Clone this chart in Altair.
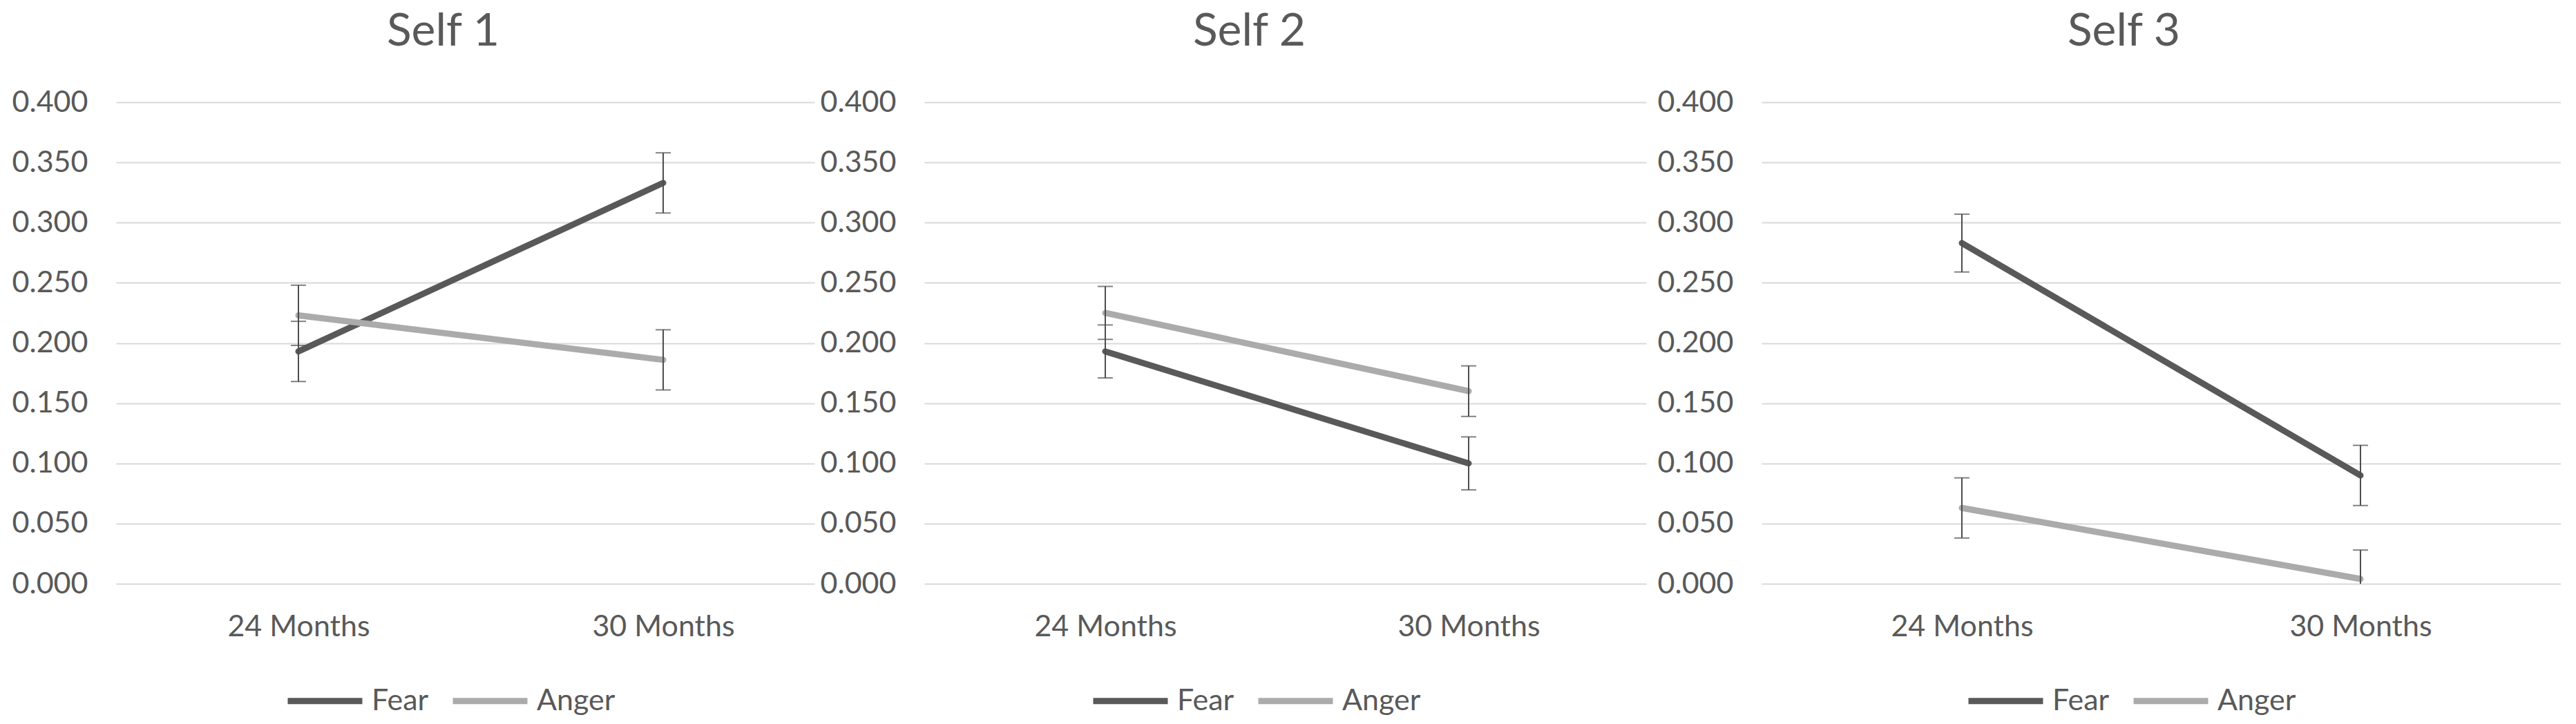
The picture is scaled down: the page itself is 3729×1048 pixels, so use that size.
import altair as alt
import pandas as pd

# ---- data ----
panels = ["Self 1", "Self 2", "Self 3"]
times = ["24 Months", "30 Months"]
series = ["Fear", "Anger"]

fear_mean = [[0.193, 0.333], [0.193, 0.100], [0.283, 0.090]]
fear_err = [[0.025, 0.025], [0.022, 0.022], [0.024, 0.025]]
anger_mean = [[0.223, 0.186], [0.225, 0.160], [0.063, 0.004]]
anger_err = [[0.025, 0.025], [0.022, 0.021], [0.025, 0.024]]

y_ticks = [0.0, 0.05, 0.1, 0.15, 0.2, 0.25, 0.3, 0.35, 0.4]

# ---- layout (pixels) ----
plot_widths = [1011, 1045, 1157]
plot_height = 697
cat_pix = [[264, 792], [262, 788], [290, 867]]   # category centres inside each plot
axis_extents = [160, 159, 167]
title_dx = [-32, -52, -54]
legend_x = [280, 276, 331]
legend_y = 844
top_pad = 5

FONT = "Lato"
TXT = "#595959"
colors = ["#595959", "#ABABAB"]
label_expr = "[" + ",".join("'" + t + "'" for t in times) + "][datum.value]"


def make_df(i):
    rows = []
    for s, means, errs in (("Fear", fear_mean, fear_err), ("Anger", anger_mean, anger_err)):
        for k, (m, e) in enumerate(zip(means[i], errs[i])):
            rows.append({"t": k, "time": times[k], "series": s, "mean": m, "lo": m - e, "hi": m + e})
    return pd.DataFrame(rows)


def x_domain(i):
    p0, p1 = cat_pix[i]
    step = p1 - p0
    d0 = -p0 / step
    return [d0, d0 + plot_widths[i] / step]


def panel(i):
    df = make_df(i)
    base = alt.Chart(df)
    x = alt.X(
        "t:Q",
        scale=alt.Scale(domain=x_domain(i), nice=False, zero=False),
        axis=alt.Axis(
            title=None, values=[0, 1], labelExpr=label_expr, labelAngle=0, labelPadding=41,
            ticks=False, domain=False, labelFontSize=43, labelFont=FONT, labelColor=TXT,
            grid=False, labelLimit=0, labelFlush=False, labelOverlap=False,
        ),
    )
    yscale = alt.Scale(domain=[0, 0.4], nice=False, zero=False)
    y = alt.Y(
        "mean:Q",
        scale=yscale,
        axis=alt.Axis(
            title=None, values=y_ticks, format=".3f", grid=True, gridColor="#D9D9D9",
            gridWidth=2, domain=False, ticks=False, labelPadding=41,
            labelFontSize=43, labelFont=FONT, labelColor=TXT, labelFlush=False,
            minExtent=axis_extents[i], maxExtent=axis_extents[i],
        ),
    )
    color = alt.Color(
        "series:N",
        sort=series,
        scale=alt.Scale(domain=series, range=colors),
        legend=alt.Legend(
            title=None, orient="none", direction="horizontal",
            legendX=legend_x[i], legendY=legend_y,
            symbolType="M-3,0H3", symbolSize=1296, symbolStrokeWidth=9,
            labelFontSize=43, labelFont=FONT, labelColor=TXT,
            labelOffset=45, columnPadding=16, padding=0,
        ),
    )
    lines = base.mark_line(strokeWidth=9, strokeCap="round", strokeJoin="round").encode(
        x=x, y=y, color=color
    )
    rules = base.mark_rule(color="#4D4D4D", strokeWidth=2, clip=True).encode(
        x=x, y=alt.Y("lo:Q", scale=yscale), y2="hi:Q"
    )
    cap_hi = base.mark_tick(color="#4D4D4D", size=22, thickness=2, orient="horizontal", clip=True).encode(
        x=x, y=alt.Y("hi:Q", scale=yscale)
    )
    cap_lo = base.mark_tick(color="#4D4D4D", size=22, thickness=2, orient="horizontal", clip=True).encode(
        x=x, y=alt.Y("lo:Q", scale=yscale)
    )
    return alt.layer(lines, rules, cap_hi, cap_lo).properties(
        width=plot_widths[i],
        height=plot_height,
        title=alt.Title(
            panels[i], fontSize=66, font=FONT, color=TXT, fontWeight="normal",
            anchor="middle", frame="group", dx=title_dx[i], baseline="alphabetic",
            offset=-top_pad,
        ),
    )


chart = (
    alt.hconcat(*[panel(i) for i in range(3)], spacing=0)
    .resolve_scale(color="independent", y="independent", x="independent")
    .resolve_legend(color="independent")
    .properties(padding={"top": top_pad, "left": 0, "right": 0, "bottom": 0})
    .configure_view(stroke=None)
)

chart.save("out.html", embed_options={"renderer": "svg", "actions": False})
